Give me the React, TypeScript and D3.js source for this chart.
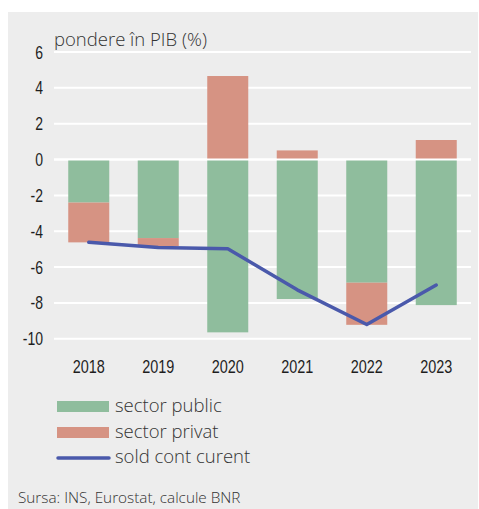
import React from "react";
import * as d3 from "d3";

const years = ["2018", "2019", "2020", "2021", "2022", "2023"];
const sectorPublic = [-2.4, -4.38, -9.64, -7.78, -6.87, -8.12];
const sectorPrivat = [-2.22, -0.45, 4.66, 0.51, -2.35, 1.09];
const soldContCurent = [-4.62, -4.9, -4.98, -7.27, -9.2, -7.0];
const yTicks = [6, 4, 2, 0, -2, -4, -6, -8, -10];

const W = 479;
const H = 509;
const GREEN = "#8fbd9d";
const SALMON = "#d69383";
const BLUE = "#4a59ab";
const BG = "#ededed";
const NARROW = "'Liberation Sans', Arial, sans-serif";
const LIGHT = "'Open Sans', 'Noto Sans', sans-serif";

export default function App() {
  const x = d3.scaleBand().domain(years).range([54, 471]).paddingInner(0.41).paddingOuter(0.205);
  const y = d3.scaleLinear().domain([-10, 6]).range([338.8, 52]);
  const cx = (yr: string) => (x(yr) as number) + x.bandwidth() / 2;

  const line = d3
    .line<number>()
    .x((_, i) => cx(years[i]))
    .y((d) => y(d));

  const bars: { yr: string; y0: number; y1: number; color: string }[] = [];
  years.forEach((yr, i) => {
    const p = sectorPublic[i];
    const q = sectorPrivat[i];
    bars.push({ yr, y0: 0, y1: p, color: GREEN });
    if (q >= 0) bars.push({ yr, y0: 0, y1: q, color: SALMON });
    else bars.push({ yr, y0: p < 0 ? p : 0, y1: (p < 0 ? p : 0) + q, color: SALMON });
  });

  return (
    <div style={{ position: "absolute", left: 0, top: 0 }}>
      <svg width={W} height={H} style={{ display: "block" }}>
        <rect x={0} y={0} width={W} height={H} fill="#ffffff" />
        <rect x={8} y={12} width={470} height={H - 12} fill={BG} />
        <text x={54} y={46} fontFamily={LIGHT} fontWeight={300} fontSize={18.5} fill="#333">
          pondere în PIB (%)
        </text>
        {yTicks.map((t) => (
          <g key={t}>
            <line x1={54} x2={471} y1={y(t)} y2={y(t)} stroke="#fff" strokeWidth={2} />
            <text
              transform={`translate(43,${y(t) + 6.5}) scale(0.8,1)`}
              textAnchor="end"
              fontFamily={NARROW}
              fontSize={17.5}
              fill="#1e1e1e"
            >
              {t}
            </text>
          </g>
        ))}
        {bars.map((b, i) => (
          <rect
            key={i}
            x={x(b.yr)}
            width={x.bandwidth()}
            y={y(Math.max(b.y0, b.y1))}
            height={Math.abs(y(b.y0) - y(b.y1))}
            fill={b.color}
          />
        ))}
        <line x1={54} x2={471} y1={y(0)} y2={y(0)} stroke="#fff" strokeWidth={2} />
        <path d={line(soldContCurent) || ""} fill="none" stroke={BLUE} strokeWidth={3.5} strokeLinejoin="round" strokeLinecap="round" />
        {years.map((yr) => (
          <text
            key={yr}
            transform={`translate(${cx(yr)},373) scale(0.78,1)`}
            textAnchor="middle"
            fontFamily={NARROW}
            fontSize={18.5}
            fill="#1e1e1e"
          >
            {yr}
          </text>
        ))}
        <g>
          <rect x={57} y={401} width={52} height={11} fill={GREEN} />
          <text x={115} y={412} fontFamily={LIGHT} fontWeight={300} fontSize={18.5} fill="#333">
            sector public
          </text>
          <rect x={57} y={427} width={52} height={11} fill={SALMON} />
          <text x={115} y={437.5} fontFamily={LIGHT} fontWeight={300} fontSize={18.5} fill="#333">
            sector privat
          </text>
          <line x1={58} x2={109} y1={458} y2={458} stroke={BLUE} strokeWidth={3.5} strokeLinecap="round" />
          <text x={115} y={463} fontFamily={LIGHT} fontWeight={300} fontSize={18.5} fill="#333">
            sold cont curent
          </text>
        </g>
        <text x={18} y={503} fontFamily={LIGHT} fontWeight={300} fontSize={15.3} fill="#333">
          Sursa: INS, Eurostat, calcule BNR
        </text>
      </svg>
    </div>
  );
}
